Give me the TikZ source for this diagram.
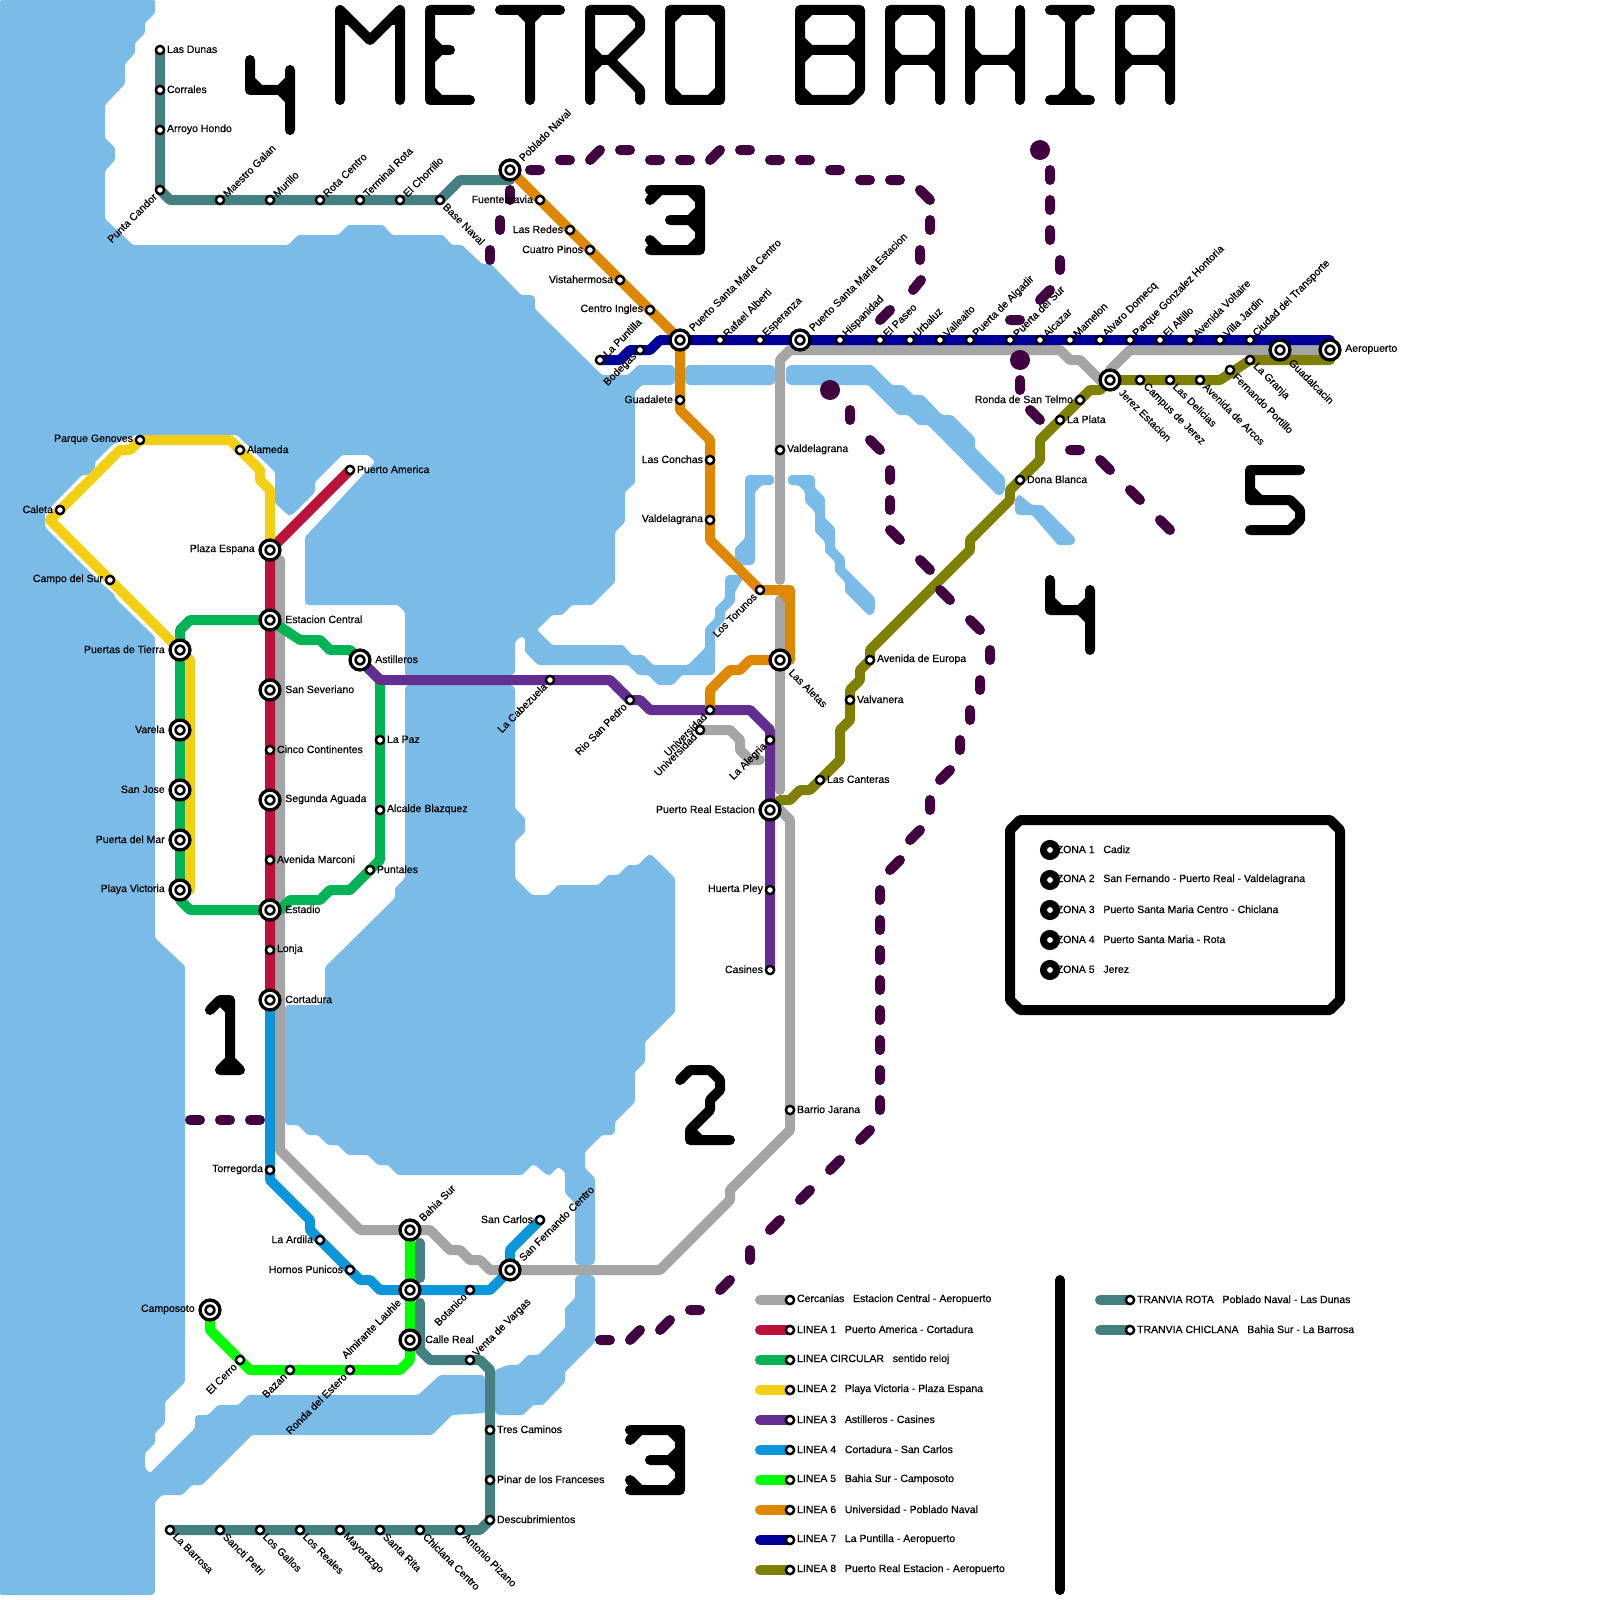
\documentclass[tikz,border=0pt]{standalone}
\usepackage{fontspec}
\setmainfont[FakeBold=0.5]{Liberation Sans}
\usepackage{tikz}
\pgfdeclarelayer{lines}
\pgfsetlayers{lines,main}
\definecolor{seab}{HTML}{7ABBE8}
\definecolor{cgrey}{HTML}{A5A5A5}
\definecolor{cred}{HTML}{BB1239}
\definecolor{cgreen}{HTML}{00B355}
\definecolor{cyell}{HTML}{F2CF13}
\definecolor{cpurp}{HTML}{642D91}
\definecolor{ccyan}{HTML}{0A96D8}
\definecolor{clime}{HTML}{00FF00}
\definecolor{coran}{HTML}{DE8700}
\definecolor{cnavy}{HTML}{000099}
\definecolor{coliv}{HTML}{808000}
\definecolor{cteal}{HTML}{458080}
\definecolor{czona}{HTML}{41003F}

\begin{document}
\begin{tikzpicture}[
  x=1pt,y=-1pt,
  font=\fontsize{10.5}{12}\selectfont,
  st/.style={circle,draw=black,fill=white,line width=2.4pt,minimum size=8.3pt,inner sep=0pt},
  big/.style={circle,draw=black,fill=white,line width=3.3pt,minimum size=19.9pt,inner sep=0pt,outer sep=3.65pt,
    path picture={\fill[black] (path picture bounding box.center) circle (5.7pt);
      \fill[white] (path picture bounding box.center) circle (3pt);}},
  zona/.style={circle,draw=black,fill=white,line width=7pt,minimum size=13pt,inner sep=0pt,outer sep=-1.5pt},
  lab/.style={inner sep=1.5pt,text=black},
  tE/.style={label={[lab,anchor=west,yshift=0.7pt]0:#1}},
  tW/.style={label={[lab,anchor=east,yshift=0.7pt]180:#1}},
  tNE/.style={label={[lab,rotate=45,anchor=west]45:#1}},
  tSW/.style={label={[lab,rotate=45,anchor=east]225:#1}},
  tSE/.style={label={[lab,rotate=-45,anchor=west]-45:#1}},
  lin/.style={line width=10pt,line cap=round,line join=round},
  cerc/.style={lin,cgrey},
  l1/.style={lin,cred},
  lc/.style={lin,cgreen},
  l2/.style={lin,cyell},
  l3/.style={lin,cpurp},
  l4/.style={lin,ccyan},
  l5/.style={lin,clime},
  l6/.style={lin,coran},
  l7/.style={lin,cnavy},
  l8/.style={lin,coliv},
  tran/.style={lin,cteal},
  tit/.style={lin,black},
  zdash/.style={lin,czona},
  zdot/.style={circle,fill=czona,minimum size=20pt,inner sep=0pt},
  water/.style={fill=seab,rounded corners=1.5pt}]

 \useasboundingbox (0,0) rectangle (1600,1600);

 % ---- tranvia rota ----
 \node[st,tE=Las Dunas] (lasdunas) at (160,50) {};
 \node[st,tE=Corrales] (corrales) at (160,90) {};
 \node[st,tE=Arroyo Hondo] (arroyo) at (160,130) {};
 \node[st,tSW=Punta Candor] (punta) at (160,190) {};
 \node[st,tNE=Maestro Galan] (maestro) at (220,200) {};
 \node[st,tNE=Murillo] (murillo) at (270,200) {};
 \node[st,tNE=Rota Centro] (rotac) at (320,200) {};
 \node[st,tNE=Terminal Rota] (terminal) at (360,200) {};
 \node[st,tNE=El Chorrillo] (chorrillo) at (400,200) {};
 \node[st,tSE=Base Naval] (basenaval) at (440,200) {};

 % ---- linea 6 ----
 \node[big,tNE=Poblado Naval] (poblado) at (510,170) {};
 \node[st,tW=Fuentebravia] (fuente) at (540,200) {};
 \node[st,tW=Las Redes] (redes) at (570,230) {};
 \node[st,tW=Cuatro Pinos] (cuatro) at (590,250) {};
 \node[st,tW=Vistahermosa] (vista) at (620,280) {};
 \node[st,tW=Centro Ingles] (centroing) at (650,310) {};
 \node[big,tNE=Puerto Santa Maria Centro] (psmc) at (680,340) {};
 \node[st,tW=Guadalete] (guadalete) at (680,400) {};
 \node[st,tW=Las Conchas] (conchas) at (710,460) {};
 \node[st,tW=Valdelagrana] (valde) at (710,520) {};
 \node[st,tSW=Los Torunos] (torunos) at (760,590) {};
 \node[big,tSE=Las Aletas] (aletas) at (780,660) {};
 \node[st,tSW=Universidad] (univ) at (710,710) {};
 \node[st,tSW=Universidad] (univb) at (700,730) {};

 % ---- linea 7 ----
 \node[st,tNE=La Puntilla] (puntilla) at (600,360) {};
 \node[st,tSW=Bodegas] (bodegas) at (640,350) {};
 \node[st,tNE=Rafael Alberti] (alberti) at (720,340) {};
 \node[st,tNE=Esperanza] (esperanza) at (760,340) {};
 \node[big,tNE=Puerto Santa Maria Estacion] (psme) at (800,340) {};
 \node[st,tNE=Hispanidad] (hispanidad) at (840,340) {};
 \node[st,tNE=El Paseo] (paseo) at (880,340) {};
 \node[st,tNE=Urbaluz] (urbaluz) at (910,340) {};
 \node[st,tNE=Valleaito] (valleaito) at (940,340) {};
 \node[st,tNE=Puerta de Algadir] (algadir) at (970,340) {};
 \node[st,tNE=Puerta del Sur] (psur) at (1010,340) {};
 \node[st,tNE=Alcazar] (alcazar) at (1040,340) {};
 \node[st,tNE=Mamelon] (mamelon) at (1070,340) {};
 \node[st,tNE=Alvaro Domecq] (domecq) at (1100,340) {};
 \node[st,tNE=Parque Gonzalez Hontoria] (hontoria) at (1130,340) {};
 \node[st,tNE=El Altillo] (altillo) at (1160,340) {};
 \node[st,tNE=Avenida Voltaire] (voltaire) at (1190,340) {};
 \node[st,tNE=Villa Jardin] (villa) at (1220,340) {};
 \node[st,tNE=Ciudad del Transporte] (ciudad) at (1250,340) {};
 \node[big,tSE=Guadalcacin] (guadal) at (1280,350) {};
 \node[big,tE=Aeropuerto] (aero) at (1330,350) {};

 % ---- linea 8 ----
 \node[big,tW=Puerto Real Estacion] (preal) at (770,810) {};
 \node[st,tE=Las Canteras] (canteras) at (820,780) {};
 \node[st,tE=Valvanera] (valvanera) at (850,700) {};
 \node[st,tE=Avenida de Europa] (europa) at (870,660) {};
 \node[st,tE=Dona Blanca] (dona) at (1020,480) {};
 \node[st,tE=La Plata] (plata) at (1060,420) {};
 \node[st,tW=Ronda de San Telmo] (telmo) at (1080,400) {};
 \node[big,tSE=Jerez Estacion] (jerez) at (1110,380) {};
 \node[st,tSE=Campus de Jerez] (campus) at (1140,380) {};
 \node[st,tSE=Las Delicias] (delicias) at (1170,380) {};
 \node[st,tSE=Avenida de Arcos] (arcos) at (1200,380) {};
 \node[st,tSE=Fernando Portillo] (portillo) at (1230,370) {};
 \node[st,tSE=La Granja] (granja) at (1250,360) {};

 % ---- linea 3 y cercanias ----
 \node[st,tE=Valdelagrana] (valdeb) at (780,450) {};
 \node[big,tE=Astilleros] (astilleros) at (360,660) {};
 \node[st,tSW=La Cabezuela] (cabezuela) at (550,680) {};
 \node[st,tSW=Rio San Pedro] (riosp) at (630,700) {};
 \node[st,tSW=La Alegria] (alegria) at (770,740) {};
 \node[st,tW=Huerta Pley] (huerta) at (770,890) {};
 \node[st,tW=Casines] (casines) at (770,970) {};
 \node[st,tE=Barrio Jarana] (jarana) at (790,1110) {};

 % ---- linea 1, 2, circular ----
 \node[st,tE=Puerto America] (america) at (350,470) {};
 \node[big,tW=Plaza Espana] (plaza) at (270,550) {};
 \node[big,tE=Estacion Central] (central) at (270,620) {};
 \node[big,tE=San Severiano] (severiano) at (270,690) {};
 \node[st,tE=Cinco Continentes] (cinco) at (270,750) {};
 \node[big,tE=Segunda Aguada] (aguada) at (270,800) {};
 \node[st,tE=Avenida Marconi] (marconi) at (270,860) {};
 \node[big,tE=Estadio] (estadio) at (270,910) {};
 \node[st,tE=Lonja] (lonja) at (270,950) {};
 \node[big,tE=Cortadura] (cortadura) at (270,1000) {};
 \node[st,tE=La Paz] (lapaz) at (380,740) {};
 \node[st,tE=Alcalde Blazquez] (blazquez) at (380,810) {};
 \node[st,tE=Puntales] (puntales) at (370,870) {};
 \node[big,tW=Puertas de Tierra] (puertas) at (180,650) {};
 \node[big,tW=Varela] (varela) at (180,730) {};
 \node[big,tW=San Jose] (sanjose) at (180,790) {};
 \node[big,tW=Puerta del Mar] (pmar) at (180,840) {};
 \node[big,tW=Playa Victoria] (playa) at (180,890) {};
 \node[st,tW=Campo del Sur] (camposur) at (110,580) {};
 \node[st,tW=Caleta] (caleta) at (60,510) {};
 \node[st,tW=Parque Genoves] (genoves) at (140,440) {};
 \node[st,tE=Alameda] (alameda) at (240,450) {};

 % ---- linea 4, 5 ----
 \node[st,tW=Torregorda] (torre) at (270,1170) {};
 \node[st,tW=La Ardila] (ardila) at (320,1240) {};
 \node[st,tW=Hornos Punicos] (hornos) at (350,1270) {};
 \node[big,tNE=Bahia Sur] (bahia) at (410,1230) {};
 \node[big,tSW=Almirante Lauhle] (lauhle) at (410,1290) {};
 \node[st,tSW=Botanico] (botanico) at (470,1290) {};
 \node[big,tNE=San Fernando Centro] (sanfer) at (510,1270) {};
 \node[st,tW=San Carlos] (sancarlos) at (540,1220) {};
 \node[big,tE=Calle Real] (calle) at (410,1340) {};
 \node[st,tSW=Ronda del Estero] (estero) at (350,1370) {};
 \node[st,tSW=Bazan] (bazan) at (290,1370) {};
 \node[st,tSW=El Cerro] (cerro) at (240,1360) {};
 \node[big,tW=Camposoto] (camposoto) at (210,1310) {};

 % ---- tranvia chiclana ----
 \node[st,tNE=Venta de Vargas] (venta) at (470,1360) {};
 \node[st,tE=Tres Caminos] (tres) at (490,1430) {};
 \node[st,tE=Pinar de los Franceses] (pinar) at (490,1480) {};
 \node[st,tE=Descubrimientos] (descub) at (490,1520) {};
 \node[st,tSE=Antonio Pizano] (pizano) at (460,1530) {};
 \node[st,tSE=Chiclana Centro] (chiclana) at (420,1530) {};
 \node[st,tSE=Santa Rita] (srita) at (380,1530) {};
 \node[st,tSE=Mayorazgo] (mayorazgo) at (340,1530) {};
 \node[st,tSE=Los Reales] (reales) at (300,1530) {};
 \node[st,tSE=Los Gallos] (gallos) at (260,1530) {};
 \node[st,tSE=Sancti Petri] (sancti) at (220,1530) {};
 \node[st,tSE=La Barrosa] (barrosa) at (170,1530) {};

 % ---- leyenda ----
 \node[st,tE=Cercanias\ \ \ Estacion Central - Aeropuerto] (ley0) at (790,1300) {};
 \node[st,tE=LINEA 1\ \ \ Puerto America - Cortadura] (ley1) at (790,1330) {};
 \node[st,tE=LINEA CIRCULAR\ \ \ sentido reloj] (leyc) at (790,1360) {};
 \node[st,tE=LINEA 2\ \ \ Playa Victoria - Plaza Espana] (ley2) at (790,1390) {};
 \node[st,tE=LINEA 3\ \ \ Astilleros - Casines] (ley3) at (790,1420) {};
 \node[st,tE=LINEA 4\ \ \ Cortadura - San Carlos] (ley4) at (790,1450) {};
 \node[st,tE=LINEA 5\ \ \ Bahia Sur - Camposoto] (ley5) at (790,1480) {};
 \node[st,tE=LINEA 6\ \ \ Universidad - Poblado Naval] (ley6) at (790,1510) {};
 \node[st,tE=LINEA 7\ \ \ La Puntilla - Aeropuerto] (ley7) at (790,1540) {};
 \node[st,tE=LINEA 8\ \ \ Puerto Real Estacion - Aeropuerto] (ley8) at (790,1570) {};
 \node[st,tE=TRANVIA ROTA\ \ \ Poblado Naval - Las Dunas] (leyr) at (1130,1300) {};
 \node[st,tE=TRANVIA CHICLANA\ \ \ Bahia Sur - La Barrosa] (leyt) at (1130,1330) {};

 % ---- zonas ----
 \node[zona,tE=ZONA 1\ \ \ Cadiz] (zona1) at (1050,850) {};
 \node[zona,tE=ZONA 2\ \ \ San Fernando - Puerto Real - Valdelagrana] (zona2) at (1050,880) {};
 \node[zona,tE=ZONA 3\ \ \ Puerto Santa Maria Centro - Chiclana] (zona3) at (1050,910) {};
 \node[zona,tE=ZONA 4\ \ \ Puerto Santa Maria - Rota] (zona4) at (1050,940) {};
 \node[zona,tE=ZONA 5\ \ \ Jerez] (zona5) at (1050,970) {};
 \draw[tit] (1020,820) -- (1330,820) -- (1340,830) -- (1340,1000) -- (1330,1010) -- (1020,1010) -- (1010,1000) -- (1010,830) -- cycle;
 \draw[tit] (1060,1280) -- (1060,1590);

 % ---- titulo ----
 \draw[tit] (340,100) -- (340,10) -- (370,40) -- (400,10) -- (400,100) (340,20) -- (350,20) (390,20) -- (400,20);
 \draw[tit] (470,10) -- (430,10) -- (430,100) -- (470,100) (430,40) -- (440,50) -- (450,50) (430,60) -- (440,50) (430,90) -- (440,100);
 \draw[tit] (500,10) -- (560,10) (530,10) -- (530,100) (520,10) -- (530,20) -- (540,10);
 \draw[tit] (590,100) -- (590,10) -- (630,10) -- (640,20) -- (640,30) -- (610,60) -- (590,60) (610,60) -- (640,90) -- (640,100) (600,60) -- (590,50) (600,60) -- (590,70);
 \draw[tit] (670,10) -- (720,10) -- (720,100) -- (670,100) -- cycle (670,20) -- (680,10) (710,10) -- (720,20) (720,90) -- (710,100) (680,100) -- (670,90);
 \draw[tit] (800,10) -- (860,10) -- (860,90) -- (850,100) -- (800,100) -- cycle (800,50) -- (860,50)
   (800,20) -- (810,10) (850,10) -- (860,20) (860,40) -- (850,50) -- (860,60) (800,40) -- (810,50) -- (800,60) (810,100) -- (800,90);
 \foreach \ax in {0,230} {
   \draw[tit,xshift=\ax pt] (890,100) -- (890,10) -- (940,10) -- (940,100) (890,60) -- (940,60)
     (890,20) -- (900,10) (930,10) -- (940,20) (940,50) -- (930,60) -- (940,70) (890,50) -- (900,60) -- (890,70);
 }
 \draw[tit] (970,10) -- (970,100) (1020,10) -- (1020,100) (970,60) -- (1020,60) (970,50) -- (980,60) -- (970,70) (1020,50) -- (1010,60) -- (1020,70);
 \draw[tit] (1050,10) -- (1090,10) (1050,100) -- (1090,100) (1070,10) -- (1070,100) (1060,10) -- (1070,20) -- (1080,10) (1060,100) -- (1070,90) -- (1080,100);

 % ---- numeros de zona ----
 \foreach \ax/\ay in {0/0,800/520} {
   \draw[tit,shift={(\ax,\ay)}] (250,60) -- (250,90) -- (280,90) (290,70) -- (290,130) (250,80) -- (260,90) (280,90) -- (290,80) (280,90) -- (290,100);
 }
 \foreach \ax/\ay in {0/0,-20/1240} {
   \draw[tit,shift={(\ax,\ay)}] (650,190) -- (700,190) -- (700,250) -- (650,250) (670,220) -- (700,220)
     (650,200) -- (660,190) (690,190) -- (700,200) (700,210) -- (690,220) -- (700,230) (700,240) -- (690,250) (660,250) -- (650,240);
 }
 \draw[tit] (1300,470) -- (1250,470) -- (1250,500) -- (1290,500) -- (1300,510) -- (1300,520) -- (1290,530) -- (1250,530) (1250,490) -- (1260,500);
 \draw[tit] (210,1010) -- (220,1000) -- (230,1000) -- (230,1070) (220,1070) -- (240,1070) (220,1070) -- (230,1060) -- (240,1070) (220,1000) -- (230,1010);
 \draw[tit] (680,1080) -- (690,1070) -- (710,1070) -- (720,1080) -- (720,1090) -- (710,1100) -- (710,1110) -- (690,1130) -- (690,1140) -- (730,1140) (690,1130) -- (700,1140);

 \begin{pgfonlayer}{lines}
 % ---- agua ----
 \fill[water] (0,0) -- (155,0) -- (155,13) -- (145,23) -- (145,33) -- (135,43) -- (135,53) -- (125,64) -- (125,84) -- (105,105) -- (105,138)
   -- (115,148) -- (115,160) -- (105,171) -- (105,219) -- (133,245) -- (288,245) -- (298,235) -- (338,235) -- (348,225) -- (383,225) -- (392,235)
   -- (443,235) -- (452,245) -- (462,245) -- (482,264) -- (491,264) -- (521,295) -- (532,295) -- (535,298) -- (535,309) -- (602,375) -- (628,375)
   -- (638,365) -- (672,365) -- (675,368) -- (675,382) -- (672,385) -- (642,385) -- (635,392) -- (635,483) -- (625,492) -- (625,522) -- (615,532)
   -- (615,582) -- (592,605) -- (572,605) -- (562,615) -- (552,615) -- (537,630) -- (552,645) -- (623,645) -- (632,655) -- (643,655) -- (653,665)
   -- (688,665) -- (705,648) -- (705,628) -- (715,618) -- (715,608) -- (725,598) -- (725,578) -- (728,575) -- (745,575) -- (735,592) -- (735,602)
   -- (725,612) -- (725,620) -- (715,630) -- (715,673) -- (712,675) -- (682,675) -- (673,685) -- (658,685) -- (648,675) -- (638,675) -- (628,665)
   -- (538,665) -- (525,652) -- (525,638) -- (520,637) -- (515,642) -- (515,673) -- (512,675) -- (405,675) -- (405,612) -- (398,605) -- (307,605)
   -- (305,602) -- (305,537) -- (375,462) -- (368,455) -- (342,455) -- (315,482) -- (315,492) -- (292,515) -- (288,515) -- (275,503) -- (275,472)
   -- (237,435) -- (135,435) -- (112,445) -- (95,462) -- (95,468) -- (88,475) -- (82,475) -- (45,513) -- (45,527) -- (100,582) -- (115,595)
   -- (115,598) -- (155,637) -- (155,938) -- (185,966) -- (185,1382) -- (165,1402) -- (165,1423) -- (155,1433) -- (155,1443) -- (145,1453)
   -- (145,1468) -- (150,1473) -- (195,1428) -- (195,1417) -- (197,1415) -- (208,1415) -- (218,1405) -- (238,1405) -- (248,1395) -- (418,1395)
   -- (440,1375) -- (483,1375) -- (485,1378) -- (485,1413) -- (452,1415) -- (432,1435) -- (252,1435) -- (202,1485) -- (192,1485) -- (182,1495)
   -- (162,1495) -- (155,1502) -- (155,1593) -- (152,1595) -- (0,1595) -- cycle;
 \fill[water] (405,688) -- (407,685) -- (512,685) -- (515,688) -- (515,808) -- (525,818) -- (525,832) -- (515,842) -- (515,878) -- (532,895)
   -- (548,895) -- (558,885) -- (598,885) -- (608,875) -- (618,875) -- (628,865) -- (638,865) -- (648,855) -- (652,855) -- (675,878) -- (675,1012)
   -- (645,1042) -- (645,1062) -- (635,1072) -- (635,1102) -- (615,1122) -- (615,1132) -- (612,1135) -- (602,1135) -- (585,1152) -- (585,1168)
   -- (595,1178) -- (595,1262) -- (592,1265) -- (578,1265) -- (575,1262) -- (575,1203) -- (565,1193) -- (565,1172) -- (558,1167) -- (550,1175)
   -- (547,1175) -- (535,1165) -- (532,1165) -- (522,1175) -- (398,1175) -- (388,1165) -- (378,1165) -- (368,1155) -- (348,1155) -- (338,1145)
   -- (328,1145) -- (318,1135) -- (308,1135) -- (298,1125) -- (287,1125) -- (285,1123) -- (285,1007) -- (287,1005) -- (320,1005) -- (325,1000)
   -- (325,967) -- (395,898) -- (395,888) -- (405,878) -- cycle;
 \fill[water] (578,1275) -- (592,1275) -- (595,1278) -- (595,1342) -- (565,1372) -- (565,1382) -- (543,1405) -- (533,1405) -- (523,1415)
   -- (498,1415) -- (495,1412) -- (495,1370) -- (508,1365) -- (518,1365) -- (528,1355) -- (538,1355) -- (565,1328) -- (565,1308) -- (575,1298)
   -- (575,1278) -- cycle;
 \fill[water] (688,365) -- (772,365) -- (775,368) -- (775,382) -- (772,385) -- (688,385) -- (685,382) -- (685,368) -- cycle;
 \fill[water] (790,365) -- (872,365) -- (892,385) -- (903,385) -- (913,395) -- (923,395) -- (942,415) -- (952,415) -- (975,438) -- (975,448)
   -- (1005,478) -- (1005,490) -- (1002,495) -- (997,495) -- (928,425) -- (918,425) -- (908,415) -- (898,415) -- (868,385) -- (790,385)
   -- (786,382) -- (786,368) -- cycle;
 \fill[water] (1020,495) -- (1032,505) -- (1042,505) -- (1075,538) -- (1075,542) -- (1072,545) -- (1058,545) -- (1032,515) -- (1018,515)
   -- (1015,512) -- (1015,500) -- (1018,495) -- cycle;
 \fill[water] (748,475) -- (772,475) -- (775,480) -- (772,485) -- (762,485) -- (755,492) -- (755,562) -- (752,565) -- (740,565) -- (735,558)
   -- (735,548) -- (745,538) -- (745,478) -- cycle;
 \fill[water] (790,475) -- (812,475) -- (815,478) -- (815,488) -- (825,498) -- (825,518) -- (835,528) -- (835,548) -- (845,558) -- (845,568)
   -- (875,598) -- (875,610) -- (872,615) -- (868,615) -- (845,592) -- (845,582) -- (835,572) -- (835,562) -- (825,552) -- (825,542) -- (815,532)
   -- (815,512) -- (805,502) -- (805,492) -- (798,485) -- (790,485) -- (787,480) -- cycle;

 % ---- lineas ----
 \draw[tran] (lasdunas.center) -- (punta.center) -- (170,200) -- (basenaval.center) -- (460,180) -- (510,180);
 \draw[tran] (420,1243) -- (420,1278);
 \draw[tran] (420,1303) -- (420,1350) -- (430,1360) -- (480,1360) -- (490,1370) -- (490,1520) -- (480,1530) -- (barrosa.center);
 \draw[cerc] (280,560) -- (280,1150) -- (360,1230) -- (430,1230) -- (450,1250) -- (460,1250) -- (470,1260) -- (480,1260) -- (490,1270) -- (660,1270)
   -- (730,1200) -- (730,1190) -- (790,1130) -- (790,820) -- (775,805);
 \draw[cerc] (780,790) -- (780,600);
 \draw[cerc] (780,580) -- (780,360) -- (790,350) -- (1060,350) -- (1070,360) -- (1080,360) -- (1100,380) -- (jerez.center) -- (1110,370) -- (1130,350) -- (aero.center);
 \draw[cerc] (univb.center) -- (730,730) -- (740,740) -- (740,750) -- (750,760) -- (760,760);
 \draw[l1] (america.center) -- (plaza.center) -- (cortadura.center);
 \draw[lc] (central.center) -- (190,620) -- (180,630) -- (180,900) -- (190,910) -- (estadio.center) -- (280,910) -- (290,900) -- (320,900) -- (330,890)
   -- (350,890) -- (380,860) -- (380,680) -- (astilleros.center) -- (350,650) -- (330,650) -- (320,640) -- (300,640) -- (central.center);
 \draw[l2] (190,890) -- (190,660) -- (puertas.center) -- (50,520) -- (120,450) -- (130,450) -- (genoves.center) -- (230,440) -- (260,470)
   -- (260,480) -- (270,490) -- (plaza.center);
 \draw[l3] (astilleros.center) -- (380,680) -- (610,680) -- (riosp.center) -- (640,700) -- (650,710) -- (750,710) -- (770,730) -- (casines.center);
 \draw[l4] (cortadura.center) -- (270,1180) -- (310,1220) -- (310,1230) -- (360,1280) -- (370,1280) -- (380,1290) -- (490,1290) -- (sanfer.center)
   -- (510,1250) -- (sancarlos.center);
 \draw[l5] (bahia.center) -- (410,1360) -- (400,1370) -- (250,1370) -- (210,1330) -- (camposoto.center);
 \draw[l6] (poblado.center) -- (psmc.center) -- (680,410) -- (710,440) -- (710,540) -- (torunos.center) -- (790,590) -- (790,660) -- (aletas.center)
   -- (750,660) -- (740,670) -- (730,670) -- (710,690) -- (univ.center) (780,590) -- (790,600);
 \draw[l7] (puntilla.center) -- (620,360) -- (630,350) -- (650,350) -- (660,340) -- (1330,340);
 \draw[l8] (preal.center) -- (780,800) -- (790,800) -- (800,790) -- (810,790) -- (840,760) -- (840,730) -- (850,720) -- (850,690) -- (860,680)
   -- (860,670) -- (870,660) -- (870,650) -- (970,550) -- (970,540) -- (1010,500) -- (1010,490) -- (1040,460) -- (1040,440) -- (1090,390)
   -- (1100,390) -- (jerez.center) -- (1220,380) -- (1250,360) -- (1330,360);

 % ---- leyenda, tramos ----
 \draw[cerc] (ley0.center) -- ++(-30,0);
 \draw[l1] (ley1.center) -- ++(-30,0);
 \draw[lc] (leyc.center) -- ++(-30,0);
 \draw[l2] (ley2.center) -- ++(-30,0);
 \draw[l3] (ley3.center) -- ++(-30,0);
 \draw[l4] (ley4.center) -- ++(-30,0);
 \draw[l5] (ley5.center) -- ++(-30,0);
 \draw[l6] (ley6.center) -- ++(-30,0);
 \draw[l7] (ley7.center) -- ++(-30,0);
 \draw[l8] (ley8.center) -- ++(-30,0);
 \draw[tran] (leyr.center) -- ++(-30,0);
 \draw[tran] (leyt.center) -- ++(-30,0);

 % ---- limites de zona ----
 \draw[zdash] (530,170) -- (540,170) (560,160) -- (570,160) (590,160) -- (600,150) (620,150) -- (630,150) (650,160) -- (660,160) (680,160) -- (690,160)
   (710,160) -- (720,150) (740,150) -- (750,150) (770,160) -- (780,160) (800,160) -- (810,160) (830,170) -- (840,170) (860,180) -- (870,180)
   (890,180) -- (900,180) (920,190) -- (930,200) (930,220) -- (930,230) (920,250) -- (920,260) (913,290) -- (921,280) (880,320) -- (890,310);
 \draw[zdash] (510,190) -- (510,200) (500,220) -- (500,230) (490,250) -- (490,260);
 \node[zdot] (dotb) at (1040,150) {};
 \draw[zdash] (1050,170) -- (1050,180) (1050,200) -- (1050,210) (1050,230) -- (1050,240) (1060,260) -- (1060,270) (1040,300) -- (1050,290) (1010,320) -- (1020,320);
 \node[zdot] (dotc) at (1020,360) {};
 \draw[zdash] (1020,380) -- (1020,390) (1030,410) -- (1040,420) (1070,450) -- (1080,450) (1100,460) -- (1110,470) (1130,490) -- (1140,500) (1160,520) -- (1170,530);
 \node[zdot] (dotd) at (830,390) {};
 \draw[zdash] (850,410) -- (850,420) (870,440) -- (880,450) (890,470) -- (890,480) (890,500) -- (890,510) (890,530) -- (900,540) (920,560) -- (930,570)
   (940,590) -- (950,600) (970,620) -- (980,630) (990,650) -- (990,660) (980,680) -- (980,690) (970,710) -- (970,720) (960,740) -- (960,750)
   (940,780) -- (950,770) (930,800) -- (930,810) (910,840) -- (920,830) (890,870) -- (900,860) (880,890) -- (880,900) (880,920) -- (880,930)
   (880,950) -- (880,960) (880,980) -- (880,990) (880,1010) -- (880,1020) (880,1040) -- (880,1050) (880,1070) -- (880,1080) (880,1100) -- (880,1110)
   (860,1140) -- (870,1130) (830,1170) -- (840,1160) (800,1200) -- (810,1190) (770,1230) -- (780,1220) (750,1250) -- (750,1260) (720,1290) -- (730,1280)
   (690,1310) -- (700,1310) (660,1330) -- (670,1320) (630,1340) -- (640,1330) (600,1340) -- (610,1340);
 \draw[zdash] (190,1120) -- (200,1120) (220,1120) -- (230,1120) (250,1120) -- (260,1120);
 \end{pgfonlayer}
\end{tikzpicture}
\end{document}
